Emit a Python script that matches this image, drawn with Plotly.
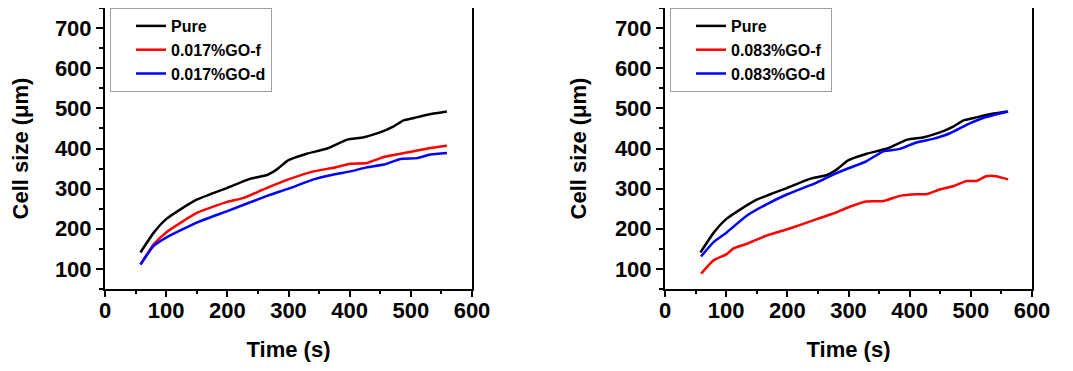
import plotly.graph_objects as go

# ---- data ----
t_pure = [58, 80, 100, 124, 151, 200, 238, 265, 281, 300, 330, 363, 396, 423, 456, 472, 488, 505, 527, 559]
v_pure = [141, 191, 224, 249, 273, 302, 325, 334, 348, 371, 387, 400, 422, 428, 444, 455, 470, 476, 484, 492]

t_f017 = [58, 80, 100, 151, 200, 227, 265, 300, 341, 374, 401, 428, 456, 494, 532, 559]
v_f017 = [111, 162, 191, 240, 267, 277, 302, 323, 343, 352, 362, 364, 379, 390, 401, 407]

t_d017 = [58, 80, 100, 151, 200, 265, 300, 341, 374, 401, 428, 456, 483, 510, 532, 559]
v_d017 = [111, 158, 178, 216, 244, 282, 300, 323, 335, 343, 353, 360, 374, 376, 385, 389]

t_f083 = [59, 79, 101, 112, 133, 166, 200, 220, 248, 275, 302, 329, 357, 384, 411, 427, 449, 471, 493, 509, 525, 541, 561]
v_f083 = [88, 121, 137, 151, 162, 183, 199, 209, 224, 238, 255, 268, 269, 282, 286, 286, 298, 306, 319, 319, 331, 331, 323]

t_d083 = [59, 79, 101, 133, 166, 200, 248, 275, 302, 329, 357, 384, 411, 438, 466, 493, 520, 561]
v_d083 = [131, 166, 191, 232, 261, 286, 315, 335, 352, 368, 393, 399, 415, 424, 438, 459, 476, 492]

x_ticks = [0, 100, 200, 300, 400, 500, 600]
y_ticks = [100, 200, 300, 400, 500, 600, 700]

FONT = "Liberation Sans, Arial, sans-serif"
LW = 2.5

fig = go.Figure()

def add(x, y, name, color, xa, ya, legend):
    fig.add_trace(go.Scatter(x=x, y=y, name=name, mode="lines",
                             line=dict(color=color, width=LW, shape="spline", smoothing=0.5),
                             xaxis=xa, yaxis=ya, legend=legend))

add(t_pure, v_pure, "Pure", "black", "x", "y", "legend")
add(t_f017, v_f017, "0.017%GO-f", "#ff0000", "x", "y", "legend")
add(t_d017, v_d017, "0.017%GO-d", "#0000ff", "x", "y", "legend")
add(t_pure, v_pure, "Pure", "black", "x2", "y2", "legend2")
add(t_f083, v_f083, "0.083%GO-f", "#ff0000", "x2", "y2", "legend2")
add(t_d083, v_d083, "0.083%GO-d", "#0000ff", "x2", "y2", "legend2")

# page has an 8px body margin, so the figure is drawn 8px in from the top-left
OFF = 8
W, H = 1073 - OFF, 371 - OFF
top_px, bot_px = 8 - OFF, 289 - OFF
ydom = [(H - bot_px) / H, (H - top_px) / H]
xdom1 = [(105 - OFF) / W, (472 - OFF) / W]
xdom2 = [(665 - OFF) / W, (1032 - OFF) / W]

def xaxis(dom, anchor):
    return dict(domain=dom, anchor=anchor, range=[0, 600], tickvals=x_ticks,
                ticks="outside", ticklen=6, tickwidth=2, tickcolor="black",
                minor=dict(dtick=50, tick0=0, ticks="outside", ticklen=3, tickwidth=1.5, tickcolor="black"),
                showline=True, linewidth=2, linecolor="black", mirror=True,
                showgrid=False, zeroline=False, automargin=False,
                ticklabelstandoff=-5,
                tickfont=dict(family=FONT, size=22, color="black", weight="bold"),
                title=dict(text="Time (s)", standoff=19,
                           font=dict(family=FONT, size=22, color="black", weight="bold")))

def yaxis(anchor):
    return dict(domain=ydom, anchor=anchor, range=[50, 750], tickvals=y_ticks,
                ticks="outside", ticklen=7, tickwidth=2, tickcolor="black",
                minor=dict(dtick=50, tick0=0, ticks="outside", ticklen=4, tickwidth=1.5, tickcolor="black"),
                showline=True, linewidth=2, linecolor="black", mirror=True,
                showgrid=False, zeroline=False, automargin=False,
                tickfont=dict(family=FONT, size=22, color="black", weight="bold"),
                title=dict(text="Cell size (\u03bcm)", standoff=22,
                           font=dict(family=FONT, size=22, color="black", weight="bold")))

def legend(x0):
    return dict(x=x0, y=ydom[1], xanchor="left", yanchor="top", xref="paper", yref="paper",
                bgcolor="white", bordercolor="#a0a0a0", borderwidth=1,
                font=dict(family=FONT, size=16, color="black", weight="bold"),
                indentation=20, tracegroupgap=0, itemwidth=30)

fig.update_layout(
    width=W, height=H,
    margin=dict(l=0, r=0, t=0, b=0, autoexpand=False),
    paper_bgcolor="white", plot_bgcolor="white",
    xaxis=xaxis(xdom1, "y"), yaxis=yaxis("x"),
    xaxis2=xaxis(xdom2, "y2"), yaxis2=yaxis("x2"),
    legend=legend(xdom1[0] + 5 / W), legend2=legend(xdom2[0] + 5 / W),
    showlegend=True,
)

fig.write_html("out.html")
